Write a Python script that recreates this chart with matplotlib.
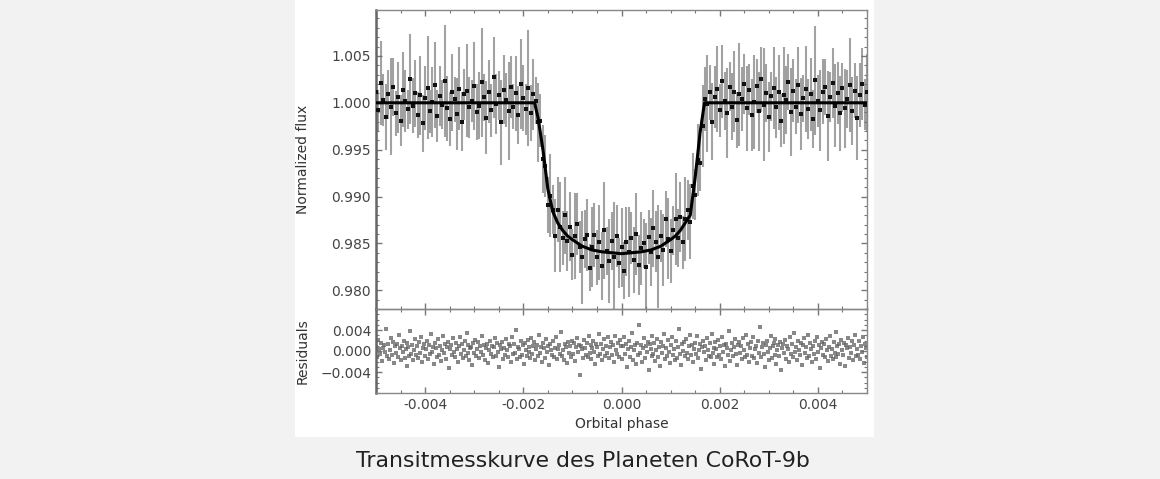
import numpy as np
import matplotlib.pyplot as plt
from matplotlib.patches import Rectangle
from matplotlib.ticker import MultipleLocator, FuncFormatter

# gemessener Fluss (phasengefaltet, gleichmaessig in Phase verteilt)
flux = [
    1.0012, 0.9992, 1.0021, 1.0003, 0.9985, 1.0009, 0.9996, 1.0017, 0.9989, 1.0006,
    0.9981, 1.0014, 1.0002, 0.9993, 1.0025, 0.9997, 1.0010, 0.9987, 1.0008, 0.9978,
    1.0005, 1.0016, 0.9991, 1.0001, 1.0019, 0.9986, 1.0007, 0.9998, 1.0023, 0.9994,
    0.9983, 1.0011, 1.0004, 0.9988, 1.0015, 0.9980, 1.0009, 1.0013, 0.9995, 1.0002,
    1.0018, 0.9990, 0.9997, 1.0022, 1.0006, 0.9984, 1.0012, 0.9992, 1.0027, 0.9999,
    1.0008, 0.9979, 1.0014, 1.0003, 0.9991, 1.0017, 0.9996, 1.0010, 0.9987, 1.0020,
    1.0005, 0.9993, 1.0016, 0.9989, 1.0009, 1.0002, 0.9979, 0.9981, 0.9940, 0.9933,
    0.9891, 0.9901, 0.9886, 0.9858, 0.9886, 0.9868, 0.9856, 0.9880, 0.9853, 0.9868,
    0.9838, 0.9858, 0.9871, 0.9846, 0.9835, 0.9855, 0.9859, 0.9824, 0.9846, 0.9859,
    0.9835, 0.9851, 0.9826, 0.9864, 0.9842, 0.9831, 0.9853, 0.9836, 0.9858, 0.9829,
    0.9846, 0.9821, 0.9852, 0.9841, 0.9856, 0.9832, 0.9860, 0.9827, 0.9845, 0.9850,
    0.9825, 0.9857, 0.9841, 0.9866, 0.9852, 0.9836, 0.9858, 0.9843, 0.9876, 0.9855,
    0.9842, 0.9864, 0.9876, 0.9856, 0.9878, 0.9851, 0.9876, 0.9886, 0.9873, 0.9911,
    0.9902, 0.9939, 0.9936, 0.9975, 1.0004, 0.9999, 1.0011, 0.9980, 1.0006, 1.0015,
    0.9992, 1.0023, 1.0002, 0.9989, 1.0017, 0.9996, 1.0012, 0.9982, 1.0009, 1.0004,
    1.0020, 0.9994, 1.0014, 0.9987, 1.0001, 1.0018, 0.9991, 1.0025, 0.9998, 1.0010,
    0.9985, 1.0007, 1.0016, 0.9995, 1.0011, 0.9981, 1.0008, 1.0003, 1.0022, 0.9990,
    1.0013, 0.9996, 1.0019, 0.9988, 1.0005, 1.0015, 0.9993, 1.0009, 0.9983, 1.0024,
    1.0002, 0.9992, 1.0012, 1.0017, 0.9986, 1.0006, 1.0021, 0.9997, 1.0010, 0.9989,
    1.0016, 0.9994, 1.0004, 1.0019, 0.9991, 1.0013, 0.9984, 1.0008, 1.0020, 0.9998,
    1.0011,
]

flux_err = [
    0.0030, 0.0022, 0.0045, 0.0028, 0.0035, 0.0026, 0.0052, 0.0031, 0.0024, 0.0038,
    0.0027, 0.0040, 0.0033, 0.0021, 0.0048, 0.0029, 0.0036, 0.0025, 0.0042, 0.0030,
    0.0034, 0.0055, 0.0023, 0.0037, 0.0046, 0.0028, 0.0032, 0.0026, 0.0060, 0.0035,
    0.0029, 0.0041, 0.0024, 0.0038, 0.0044, 0.0031, 0.0027, 0.0050, 0.0033, 0.0022,
    0.0047, 0.0030, 0.0036, 0.0058, 0.0025, 0.0039, 0.0034, 0.0028, 0.0043, 0.0032,
    0.0026, 0.0045, 0.0037, 0.0029, 0.0052, 0.0033, 0.0024, 0.0040, 0.0031, 0.0048,
    0.0035, 0.0027, 0.0062, 0.0030, 0.0038, 0.0025, 0.0042, 0.0028, 0.0036, 0.0033,
    0.0030, 0.0044, 0.0026, 0.0039, 0.0035, 0.0048, 0.0029, 0.0041, 0.0032, 0.0037,
    0.0027, 0.0046, 0.0033, 0.0028, 0.0050, 0.0031, 0.0038, 0.0025, 0.0043, 0.0034,
    0.0029, 0.0040, 0.0036, 0.0052, 0.0026, 0.0045, 0.0031, 0.0058, 0.0033, 0.0027,
    0.0042, 0.0030, 0.0037, 0.0048, 0.0028, 0.0035, 0.0044, 0.0032, 0.0039, 0.0026,
    0.0047, 0.0029, 0.0036, 0.0041, 0.0033, 0.0055, 0.0028, 0.0038, 0.0030, 0.0043,
    0.0034, 0.0026, 0.0049, 0.0031, 0.0037, 0.0028, 0.0045, 0.0032, 0.0040, 0.0035,
    0.0027, 0.0038, 0.0030, 0.0044, 0.0034, 0.0052, 0.0029, 0.0041, 0.0033, 0.0046,
    0.0028, 0.0039, 0.0031, 0.0048, 0.0026, 0.0036, 0.0043, 0.0030, 0.0055, 0.0034,
    0.0032, 0.0045, 0.0027, 0.0038, 0.0050, 0.0029, 0.0042, 0.0035, 0.0060, 0.0031,
    0.0037, 0.0026, 0.0044, 0.0033, 0.0040, 0.0028, 0.0052, 0.0036, 0.0030, 0.0047,
    0.0034, 0.0029, 0.0041, 0.0038, 0.0025, 0.0046, 0.0032, 0.0039, 0.0031, 0.0058,
    0.0028, 0.0043, 0.0035, 0.0030, 0.0048, 0.0027, 0.0037, 0.0044, 0.0033, 0.0040,
    0.0026, 0.0042, 0.0031, 0.0050, 0.0036, 0.0029, 0.0045, 0.0034, 0.0038, 0.0027,
    0.0041,
]

# Residuen (Messung - Modell)
resid = [
    0.0008, -0.0012, 0.0021, 0.0003, -0.0006, 0.0015, -0.0019, 0.0005, 0.0011, -0.0002,
    0.0042, -0.0009, 0.0014, -0.0015, 0.0002, 0.0025, -0.0007, 0.0018, -0.0023, 0.0009,
    -0.0004, 0.0013, -0.0011, 0.0031, 0.0006, -0.0017, 0.0010, -0.0001, 0.0020, -0.0014,
    0.0004, -0.0028, 0.0016, 0.0007, -0.0009, 0.0038, -0.0005, 0.0012, -0.0018, 0.0001,
    0.0023, -0.0008, 0.0009, -0.0013, 0.0017, -0.0003, 0.0027, -0.0021, 0.0006, 0.0014,
    -0.0010, 0.0003, 0.0019, -0.0016, 0.0011, -0.0006, 0.0033, -0.0001, 0.0008, -0.0025,
    0.0015, 0.0005, -0.0012, 0.0022, -0.0007, 0.0010, -0.0019, 0.0002, 0.0029, -0.0004,
    0.0013, -0.0015, 0.0007, 0.0018, -0.0033, 0.0004, 0.0011, -0.0008, 0.0024, -0.0002,
    -0.0011, 0.0016, 0.0003, -0.0020, 0.0009, 0.0026, -0.0006, 0.0014, -0.0013, 0.0001,
    0.0020, -0.0009, 0.0035, -0.0004, 0.0012, -0.0017, 0.0006, 0.0008, -0.0026, 0.0015,
    -0.0003, 0.0021, -0.0010, 0.0004, 0.0017, -0.0014, 0.0009, -0.0001, 0.0028, -0.0007,
    0.0011, -0.0018, 0.0005, 0.0013, -0.0022, 0.0002, 0.0019, -0.0006, 0.0010, -0.0012,
    0.0007, 0.0024, -0.0009, 0.0016, -0.0002, -0.0030, 0.0012, 0.0003, 0.0018, -0.0015,
    0.0006, -0.0008, 0.0022, 0.0001, -0.0011, 0.0014, 0.0009, -0.0020, 0.0027, -0.0005,
    0.0013, -0.0003, 0.0040, -0.0016, 0.0008, 0.0004, -0.0012, 0.0019, -0.0007, 0.0011,
    -0.0024, 0.0015, 0.0002, -0.0009, 0.0021, -0.0001, 0.0007, -0.0014, 0.0025, -0.0006,
    0.0010, 0.0017, -0.0018, 0.0003, 0.0012, -0.0010, 0.0030, -0.0004, 0.0008, -0.0021,
    0.0016, 0.0005, -0.0013, 0.0023, -0.0002, 0.0009, -0.0027, 0.0014, 0.0001, -0.0008,
    0.0019, -0.0011, 0.0006, 0.0026, -0.0015, 0.0004, 0.0011, -0.0005, 0.0037, -0.0009,
    0.0002, -0.0017, 0.0013, 0.0008, -0.0022, 0.0018, -0.0003, 0.0010, -0.0012, 0.0020,
    -0.0006, 0.0015, -0.0019, 0.0007, 0.0024, -0.0001, 0.0012, -0.0045, 0.0009, 0.0003,
    -0.0014, 0.0021, 0.0005, -0.0008, 0.0016, -0.0011, 0.0028, -0.0004, 0.0011, -0.0016,
    0.0006, 0.0019, -0.0002, -0.0025, 0.0013, 0.0008, -0.0010, 0.0033, -0.0006, 0.0014,
    -0.0018, 0.0004, 0.0022, -0.0009, 0.0010, -0.0003, 0.0026, -0.0013, 0.0007, 0.0017,
    -0.0007, 0.0012, -0.0020, 0.0029, 0.0002, -0.0005, 0.0015, -0.0011, 0.0021, 0.0009,
    -0.0016, 0.0009, 0.0027, -0.0005, 0.0014, -0.0031, 0.0003, 0.0020, -0.0012, 0.0007,
    0.0035, -0.0018, 0.0001, 0.0011, -0.0024, 0.0016, -0.0008, 0.0050, -0.0003, 0.0012,
    -0.0020, 0.0006, 0.0024, -0.0014, 0.0009, -0.0002, 0.0018, -0.0037, 0.0013, 0.0004,
    -0.0010, 0.0029, -0.0006, 0.0015, -0.0019, 0.0002, 0.0022, -0.0011, 0.0008, -0.0028,
    0.0017, -0.0004, 0.0010, 0.0033, -0.0015, 0.0005, -0.0009, 0.0021, -0.0001, -0.0022,
    0.0012, 0.0026, -0.0007, 0.0003, -0.0017, 0.0019, -0.0013, 0.0008, 0.0041, -0.0005,
    -0.0026, 0.0014, 0.0000, 0.0018, -0.0010, 0.0023, -0.0003, -0.0016, 0.0009, 0.0030,
    -0.0008, 0.0011, -0.0021, 0.0004, 0.0016, -0.0006, 0.0028, -0.0014, 0.0002, 0.0013,
    -0.0034, 0.0007, 0.0019, -0.0002, 0.0010, -0.0018, 0.0025, 0.0001, -0.0009, 0.0015,
    -0.0012, 0.0032, -0.0004, 0.0006, -0.0024, 0.0017, 0.0003, -0.0011, 0.0021, -0.0007,
    0.0009, -0.0015, 0.0026, -0.0001, 0.0012, -0.0029, 0.0014, 0.0005, -0.0008, 0.0038,
    -0.0019, 0.0002, 0.0016, -0.0010, 0.0007, 0.0022, -0.0005, -0.0027, 0.0011, 0.0018,
    -0.0003, 0.0009, -0.0016, 0.0024, 0.0001, -0.0012, 0.0031, -0.0008, 0.0013, -0.0020,
    0.0006, 0.0017, -0.0009, 0.0027, -0.0014, 0.0003, 0.0010, -0.0023, 0.0019, -0.0004,
    0.0045, -0.0011, 0.0008, 0.0015, -0.0006, -0.0030, 0.0012, 0.0020, -0.0002, -0.0017,
    0.0005, 0.0028, -0.0013, 0.0009, 0.0016, -0.0007, 0.0023, -0.0025, 0.0001, 0.0011,
    -0.0009, 0.0018, -0.0036, 0.0006, 0.0014, -0.0003, 0.0021, -0.0015, 0.0010, 0.0004,
    -0.0020, 0.0026, -0.0006, 0.0013, -0.0011, 0.0034, -0.0001, 0.0008, -0.0018, 0.0019,
    0.0002, -0.0008, 0.0015, -0.0026, 0.0011, 0.0024, -0.0004, 0.0007, -0.0013, 0.0030,
    -0.0010, 0.0016, 0.0003, -0.0021, 0.0009, -0.0005, 0.0020, -0.0016, 0.0027, -0.0002,
    0.0012, -0.0033, 0.0006, 0.0018, -0.0007, 0.0014, -0.0012, 0.0022, 0.0001, -0.0019,
    0.0008, 0.0029, -0.0009, 0.0004, -0.0015, 0.0017, -0.0003, 0.0036, -0.0011, 0.0010,
    -0.0006, 0.0013, -0.0024, 0.0021, 0.0002, -0.0008, 0.0016, -0.0028, 0.0011, 0.0005,
    0.0025, -0.0014, 0.0007, -0.0004, 0.0019, -0.0018, 0.0012, 0.0031, -0.0010, 0.0003,
    -0.0007, 0.0020, -0.0016, 0.0009, -0.0001, 0.0026, -0.0022, 0.0014, 0.0006, -0.0012,
]

# Transitmodell
model_phase = [-0.005, -0.00177, -0.0017, -0.0016, -0.0015, -0.0014, -0.0013, -0.0012,
               -0.0011, -0.0010, -0.0008, -0.0006, -0.0004, -0.0002, 0.0, 0.0002, 0.0004,
               0.0006, 0.0008, 0.0010, 0.0011, 0.0012, 0.0013, 0.0014, 0.0015, 0.0016,
               0.00169, 0.005]
model_flux = [1.0000, 1.0000, 0.9984, 0.9950, 0.9908, 0.9884, 0.9872, 0.9864,
              0.9858, 0.9854, 0.9847, 0.9843, 0.9841, 0.9840, 0.9839, 0.9840, 0.9841,
              0.9843, 0.9847, 0.9854, 0.9858, 0.9864, 0.9872, 0.9880, 0.9920, 0.9968,
              1.0000, 1.0000]

x_ticks = [-0.004, -0.002, 0.0, 0.002, 0.004]
flux_ticks = [0.980, 0.985, 0.990, 0.995, 1.000, 1.005]
resid_ticks = [-0.004, 0.0, 0.004]
caption = "Transitmesskurve des Planeten CoRoT-9b"

phase = np.linspace(-0.005, 0.005, len(flux))
resid_phase = np.linspace(-0.005, 0.005, len(resid))

W, H = 1160, 479
fig = plt.figure(figsize=(W / 100, H / 100), dpi=100, facecolor='#f2f2f2')

# weisser Rahmen um die Grafik
fig.patches.append(Rectangle((295 / W, 1 - 437 / H), 579 / W, 437 / H,
                             transform=fig.transFigure, facecolor='white',
                             edgecolor='none', zorder=-10))

ax = fig.add_axes([376 / W, 1 - 309 / H, 491 / W, 299 / H])
axr = fig.add_axes([376 / W, 1 - 393 / H, 491 / W, 84 / H])

tick_color = '#444444'
for a in (ax, axr):
    a.set_facecolor('none')
    for s in a.spines.values():
        s.set_color('#888888')
        s.set_linewidth(1.0)
    a.spines['left'].set_color('#666666')
    a.spines['left'].set_linewidth(1.8)
    a.set_xlim(-0.005, 0.005)
    a.set_xticks(x_ticks)
    a.xaxis.set_minor_locator(MultipleLocator(0.0005))
    a.tick_params(which='both', direction='in', top=True, right=True,
                  color='#777777', labelsize=10, labelcolor=tick_color)
    a.tick_params(which='major', length=4, width=1)
    a.tick_params(which='minor', length=2, width=0.8)

# obere Grafik: Lichtkurve
ax.errorbar(phase, flux, yerr=flux_err, fmt='none', ecolor='#707070',
            elinewidth=1.5, alpha=0.65, zorder=2)
ax.plot(phase, flux, 's', color='#111111', markersize=2.6,
        markeredgewidth=0, zorder=3)
ax.plot(model_phase, model_flux, color='black', lw=2.2, zorder=4)
ax.set_ylim(0.978, 1.0099)
ax.set_yticks(flux_ticks)
ax.yaxis.set_minor_locator(MultipleLocator(0.001))
ax.yaxis.set_major_formatter(FuncFormatter(lambda v, p: f"{v:.3f}"))
ax.tick_params(axis='x', labelbottom=False)
ax.set_ylabel('Normalized flux', fontsize=10, color='#333333')
ax.yaxis.set_label_coords(-0.135, 0.5)

# untere Grafik: Residuen
axr.plot(resid_phase, resid, 's', color='#606060', markersize=2.4,
         markeredgewidth=0, alpha=0.75)
axr.set_ylim(-0.008, 0.008)
axr.set_yticks(resid_ticks)
axr.yaxis.set_minor_locator(MultipleLocator(0.001))
axr.yaxis.set_major_formatter(FuncFormatter(lambda v, p: f"{v:.3f}".replace('-', '\u2212')))
axr.xaxis.set_major_formatter(FuncFormatter(lambda v, p: f"{v:.3f}"))
axr.set_ylabel('Residuals', fontsize=10, color='#333333')
axr.yaxis.set_label_coords(-0.135, 0.5)
axr.set_xlabel('Orbital phase', fontsize=10, color='#333333', labelpad=4)

fig.text(583 / W, 1 - 461 / H, caption, ha='center', va='center',
         fontsize=15.8, color='#202122')

fig.savefig('out.png', dpi=100, facecolor=fig.get_facecolor())
